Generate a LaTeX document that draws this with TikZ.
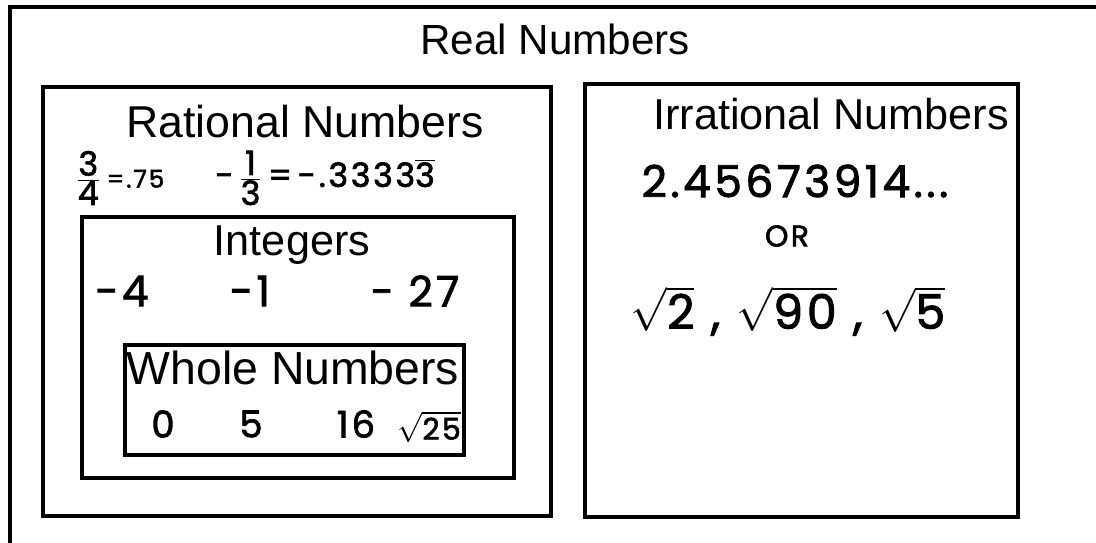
\documentclass[tikz,border=0pt]{standalone}
\usepackage{fontspec}
\setmainfont{Liberation Sans}
\newfontfamily\handfont{Poppins}[LetterSpace=8, FakeBold=2]
\usetikzlibrary{positioning}

\begin{document}
\begin{tikzpicture}[
  x=0.02cm, y=-0.02cm,
  setbox/.style={draw=black, line width=2.6pt},
  title/.style={font=\fontsize{#1}{28}\selectfont, anchor=base, inner sep=0pt},
  title/.default=24,
  hand/.style={font=\handfont\fontsize{#1}{24}\selectfont, anchor=center, inner sep=0pt},
  hand/.default=24
]
\useasboundingbox (0,0) rectangle (1096,543);
\clip (0,0) rectangle (1096,543);
\fill[white] (0,0) rectangle (1096,543);

% the nested sets
\draw[setbox] (10,7) rectangle (1130,580);
\draw[setbox] (43,87) rectangle (551,516);
\draw[setbox] (82,217) rectangle (514,478);
\draw[setbox] (125,345) rectangle (464,455);
\draw[setbox] (585,84) rectangle (1018,517);

% set names
\node[title=24] (real) at (555,55) {Real Numbers};
\node[title=25.4] (rational) at (305,138) {Rational Numbers};
\node[title=24.6] (integers) at (292,256) {Integers};
\node[title=26.4] (whole) at (293,385) {Whole Numbers};
\node[title=24.6] (irrational) at (831,130) {Irrational Numbers};

% rational examples
\node[hand=19] (threefourths) at (120,178) {$\frac{\mbox{3}}{\mbox{4}}$\,\fontsize{14}{18}\selectfont=.75};
\node[hand=19] (onethird) at (325,178) {-$\,\frac{\mbox{1}}{\mbox{3}}$\,=\,-.3333$\overline{\mbox{3}}$};

% integer examples
\node[hand] (minusfour) at (122,291) {-4};
\node[hand] (minusone) at (250,291) {-1};
\node[hand] (minustwentyseven) at (415,291) {- 27};

% whole number examples
\node[hand=21] (zero) at (163,424) {0};
\node[hand=21] (five) at (251,424) {5};
\node[hand=21] (sixteen) at (356,424) {16};
\node[hand=17] (rootfive) at (429,427) {$\sqrt{\mbox{25}}$};

% irrational examples
\node[hand=25] (decimal) at (795,181) {2.45673914...};
\node[hand=17] (orword) at (787,236) {OR};
\node[hand=27] (roots) at (788,311) {$\sqrt{\mbox{2}}$ , $\sqrt{\mbox{90}}$ , $\sqrt{\mbox{5}}$};
\end{tikzpicture}
\end{document}
